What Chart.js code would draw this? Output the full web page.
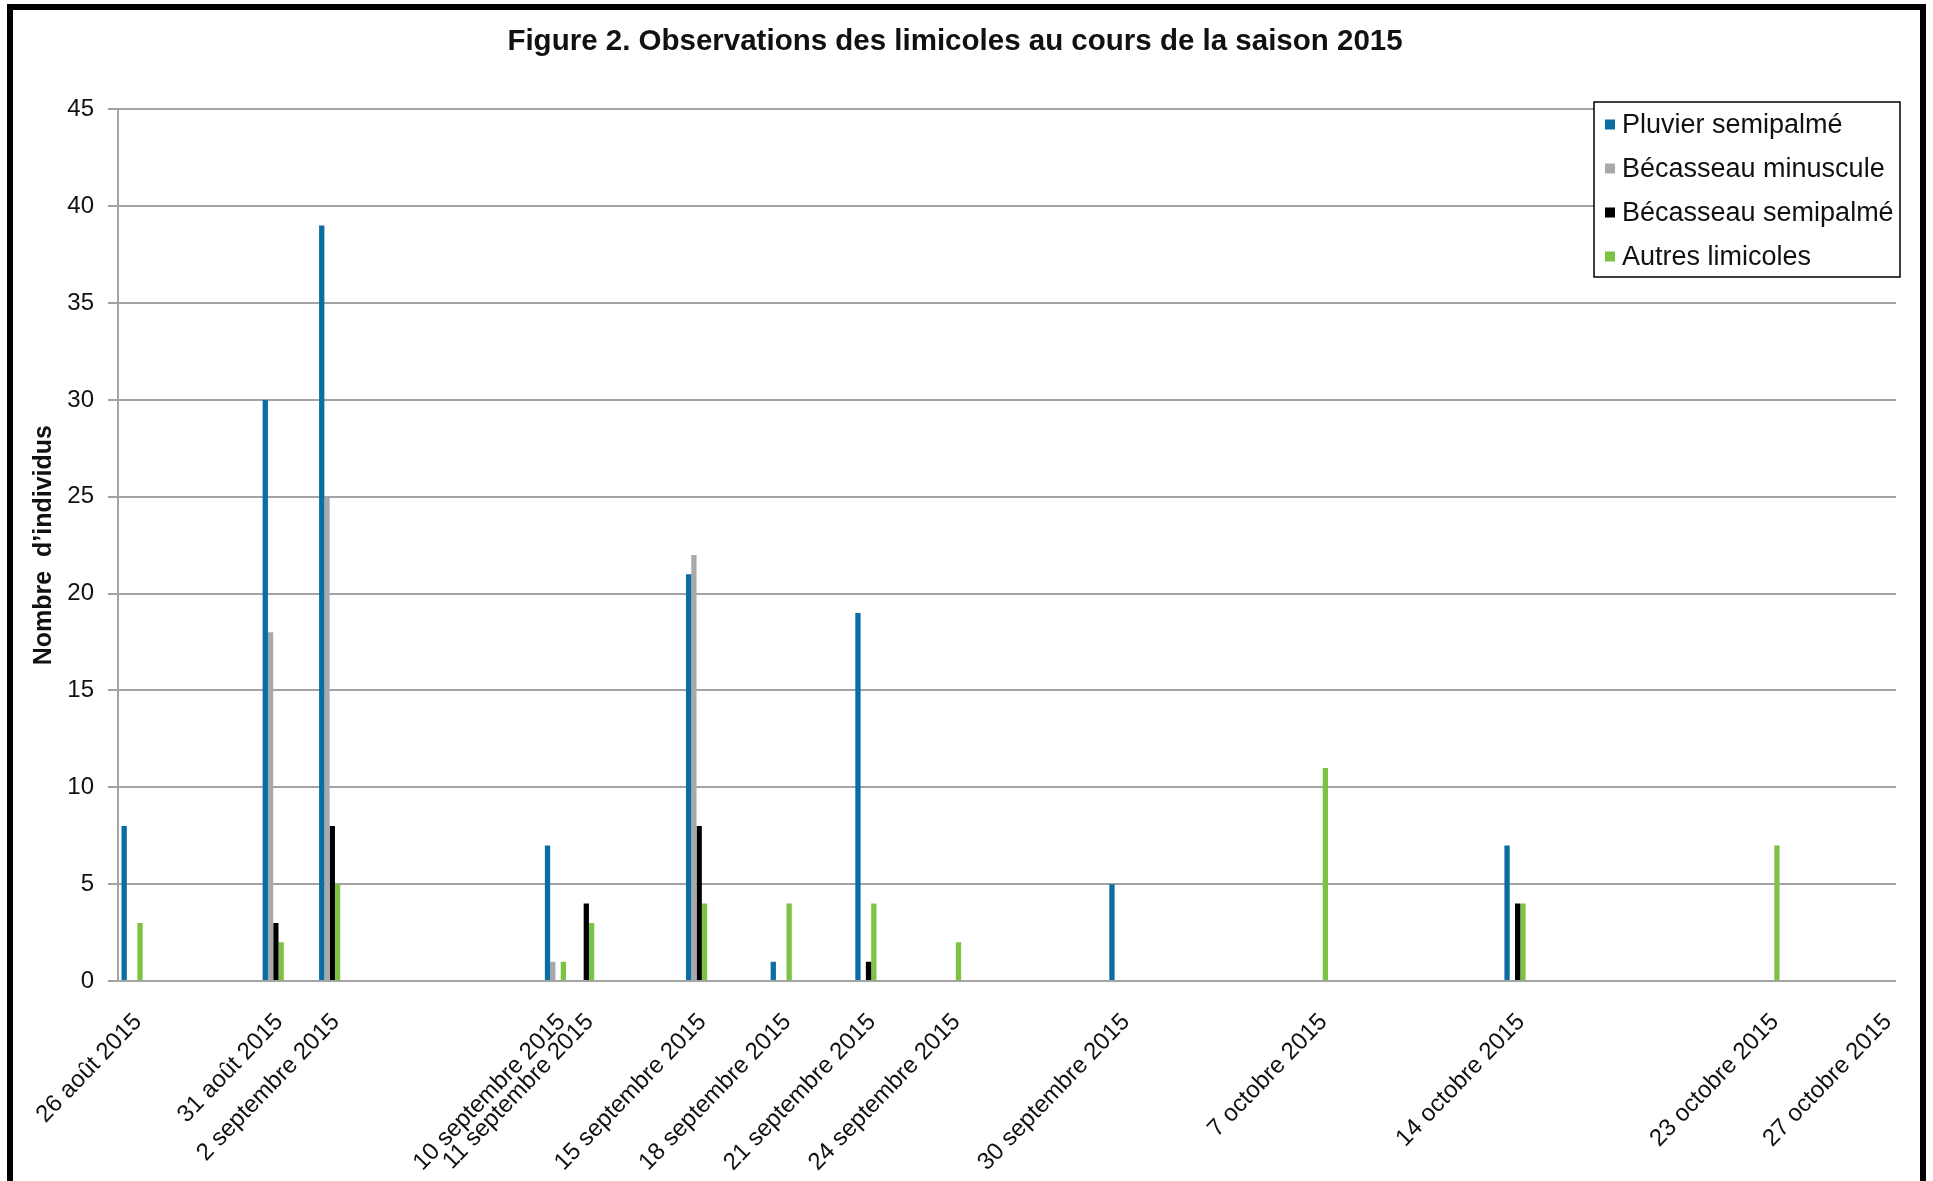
<!DOCTYPE html>
<html lang="fr">
<head>
<meta charset="utf-8">
<title>Observations des limicoles 2015</title>
<script src="https://cdn.jsdelivr.net/npm/chart.js@4.4.1/dist/chart.umd.min.js"></script>
<style>
  html, body { margin: 0; padding: 0; background: #fff; overflow: hidden; }
  #wrap { position: relative; width: 1933px; height: 1181px; }
  #frame { position: absolute; left: 7px; top: 4px; width: 1907px; height: 1300px;
           border: 6px solid #000; border-bottom: none; pointer-events: none; }
</style>
</head>
<body>
<div id="wrap">
  <canvas id="chart" width="1933" height="1181"></canvas>
  <div id="frame"></div>
</div>
<script>
// Observation dates (ISO) and their axis labels
const obsDates = ['2015-08-26', '2015-08-31', '2015-09-02', '2015-09-10', '2015-09-11',
                  '2015-09-15', '2015-09-18', '2015-09-21', '2015-09-24', '2015-09-30',
                  '2015-10-07', '2015-10-14', '2015-10-23', '2015-10-27'];
const tickLabels = ['26 août 2015', '31 août 2015', '2 septembre 2015', '10 septembre 2015',
                    '11 septembre 2015', '15 septembre 2015', '18 septembre 2015',
                    '21 septembre 2015', '24 septembre 2015', '30 septembre 2015',
                    '7 octobre 2015', '14 octobre 2015', '23 octobre 2015', '27 octobre 2015'];

// Counts per observation date (null = none recorded)
const pluvierSemipalme    = [8, 30, 39, 7, null, 21, 1, 19, null, 5, null, 7, null, null];
const becasseauMinuscule  = [null, 18, 25, 1, null, 22, null, null, null, null, null, null, null, null];
const becasseauSemipalme  = [null, 3, 8, null, 4, 8, null, 1, null, null, null, 4, null, null];
const autresLimicoles     = [3, 2, 5, 1, 3, 4, 4, 4, 2, null, 11, 4, 7, null];

const seriesNames = ['Pluvier semipalmé', 'Bécasseau minuscule', 'Bécasseau semipalmé', 'Autres limicoles'];
const seriesColors = ['#0A6DA4', '#A7A9AC', '#000000', '#7DC243'];

// Daily axis from first to last date, one slot per day
const DAY = 86400000;
const t0 = Date.parse(obsDates[0] + 'T00:00:00Z');
const tN = Date.parse(obsDates[obsDates.length - 1] + 'T00:00:00Z');
const nDays = Math.round((tN - t0) / DAY) + 1;
const dayIndex = obsDates.map(d => Math.round((Date.parse(d + 'T00:00:00Z') - t0) / DAY));
const dayLabels = Array.from({ length: nDays }, (_, i) => {
  const k = dayIndex.indexOf(i);
  return k >= 0 ? tickLabels[k] : '';
});
function spread(values) {
  const out = new Array(nDays).fill(null);
  values.forEach((v, k) => { out[dayIndex[k]] = v; });
  return out;
}
const seriesValues = [pluvierSemipalme, becasseauMinuscule, becasseauSemipalme, autresLimicoles];

const FONT = '"Liberation Sans", Arial, sans-serif';

// Boxed legend drawn inside the plot area
const boxLegend = {
  id: 'boxLegend',
  afterDraw(chart, args, o) {
    const ctx = chart.ctx;
    ctx.save();
    ctx.fillStyle = '#ffffff';
    ctx.fillRect(o.left, o.top, o.width, o.height);
    ctx.strokeStyle = '#000000';
    ctx.lineWidth = 1.5;
    ctx.strokeRect(o.left, o.top, o.width, o.height);
    ctx.font = o.font;
    ctx.textBaseline = 'middle';
    chart.data.datasets.forEach((ds, i) => {
      const y = o.top + o.firstRow + i * o.rowGap;
      ctx.fillStyle = ds.backgroundColor;
      ctx.fillRect(o.left + o.markerX, y - o.marker / 2, o.marker, o.marker);
      ctx.fillStyle = '#111111';
      ctx.fillText(ds.label, o.left + o.textX, y + 1);
    });
    ctx.restore();
  }
};

new Chart(document.getElementById('chart'), {
  type: 'bar',
  data: {
    labels: dayLabels,
    datasets: seriesNames.map((name, i) => ({
      label: name,
      data: spread(seriesValues[i]),
      backgroundColor: seriesColors[i],
      borderWidth: 0,
      categoryPercentage: 0.75,
      barPercentage: 1.0,
      skipNull: false
    }))
  },
  options: {
    responsive: false,
    devicePixelRatio: 1,
    animation: false,
    events: [],
    layout: { padding: { top: 8, left: 14, right: 37, bottom: 0 } },
    scales: {
      x: {
        grid: { display: false, drawTicks: false },
        border: { display: false },
        afterFit(scale) { scale.height = 200; },
        ticks: {
          autoSkip: false,
          minRotation: 46,
          maxRotation: 46,
          padding: 27,
          labelOffset: 6,
          color: '#111111',
          font: { family: FONT, size: 24 }
        }
      },
      y: {
        min: 0,
        max: 45,
        afterFit(scale) { scale.width = 104; },
        ticks: {
          stepSize: 5,
          padding: 14,
          color: '#111111',
          font: { family: FONT, size: 24 }
        },
        grid: { color: '#A3A3A3', lineWidth: 2, tickLength: 10 },
        border: { display: true, color: '#A3A3A3', width: 2 },
        title: {
          display: true,
          text: 'Nombre  d\u2019individus',
          color: '#111111',
          padding: { top: 15, bottom: 0 },
          font: { family: FONT, size: 25, weight: 'bold' }
        }
      }
    },
    plugins: {
      legend: { display: false },
      tooltip: { enabled: false },
      title: {
        display: true,
        text: 'Figure 2. Observations des limicoles au cours de la saison 2015',
        color: '#111111',
        padding: { top: 16, bottom: 50 },
        font: { family: FONT, size: 29.5, weight: 'bold' }
      },
      boxLegend: {
        left: 1594, top: 102, width: 306, height: 175,
        firstRow: 22.5, rowGap: 44, marker: 10, markerX: 11, textX: 28,
        font: '27px ' + FONT
      }
    }
  },
  plugins: [boxLegend]
});
</script>
</body>
</html>
